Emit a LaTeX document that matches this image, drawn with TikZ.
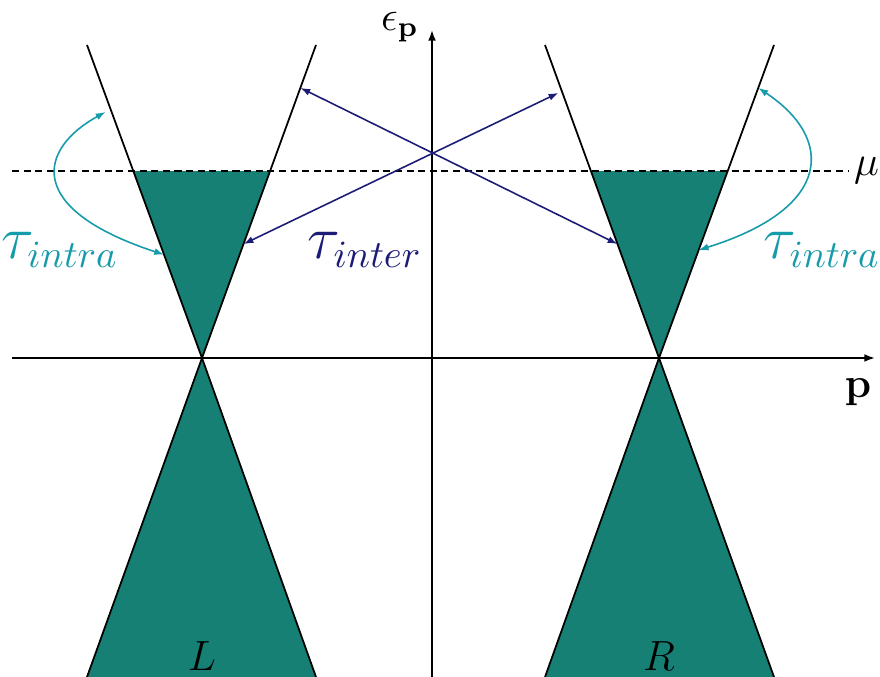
\documentclass[tikz,border=0pt]{standalone}
\usepackage{amsmath}
\usepackage{amssymb}
\usetikzlibrary{arrows.meta,calc}
\definecolor{fermiteal}{RGB}{21,128,115}
\definecolor{internavy}{RGB}{28,28,118}
\definecolor{intracyan}{RGB}{22,155,170}
\tikzset{
  eje/.style={
    -{Latex[length=3pt,width=2.2pt]},
    line width=.5pt
  },
  cono/.style={
    line width=.5pt
  },
  lleno/.style={
    fill=fermiteal
  },
  nivel/.style={
    line width=.8pt,
    dash pattern=on 2pt off 1.3pt
  },
  inter/.style={
    {Latex[length=2.8pt,width=2pt]}-{Latex[length=2.8pt,width=2pt]},
    line width=.45pt,
    internavy
  },
  intra/.style={
    {Latex[length=2.8pt,width=2pt]}-{Latex[length=2.8pt,width=2pt]},
    line width=.45pt,
    intracyan
  },
  etiq/.style={
    font=\fontsize{16}{19}\selectfont,
    inner sep=0pt
  }
}

\begin{document}
\begin{tikzpicture}[x=0.01cm,y=0.01cm]
\useasboundingbox (-432,-319) rectangle (448,358);
% cones
\coordinate (Lv) at (-230,0);
\coordinate (Ltl) at (-345,313);
\coordinate (Ltr) at (-116,313);
\coordinate (Lbl) at (-345,-319);
\coordinate (Lbr) at (-116,-319);
\coordinate (Rv) at (227,0);
\coordinate (Rtl) at (113,313);
\coordinate (Rtr) at (342,313);
\coordinate (Rbl) at (113,-319);
\coordinate (Rbr) at (342,-319);
% filled states
\fill[lleno] (Lv) -- ($(Lv)!0.597!(Ltl)$) -- ($(Lv)!0.597!(Ltr)$) -- cycle;
\fill[lleno] (Rv) -- ($(Rv)!0.597!(Rtl)$) -- ($(Rv)!0.597!(Rtr)$) -- cycle;
\fill[lleno] (Lv) -- (Lbl) -- (Lbr) -- cycle;
\fill[lleno] (Rv) -- (Rbl) -- (Rbr) -- cycle;
\draw[cono] (Ltl) -- (Lv) -- (Ltr);
\draw[cono] (Lbl) -- (Lv) -- (Lbr);
\draw[cono] (Rtl) -- (Rv) -- (Rtr);
\draw[cono] (Rbl) -- (Rv) -- (Rbr);
% axes
\coordinate (xi) at (-420,0);
\coordinate (xf) at (443,0);
\coordinate (yi) at (0,-319);
\coordinate (yf) at (0,328);
\draw[eje] (xi) -- (xf);
\draw[eje] (yi) -- (yf);
\node[font=\large] (ep) at (-32,331) {$\epsilon_{\mathbf{p}}$};
\node[font=\large] (p) at (426,-34) {$\mathbf{p}$};
% chemical potential
\coordinate (mi) at (-420,187);
\coordinate (mf) at (416,187);
\draw[nivel] (mi) -- (mf);
\node[font=\large, anchor=west, inner sep=1pt] (mu) at (418,187) {$\mu$};
% scattering
\coordinate (a1) at ($(Lv)!0.364!(Ltr)$);
\coordinate (a2) at ($(Rv)!0.847!(Rtl)+(-4,0)$);
\coordinate (b1) at ($(Lv)!0.863!(Ltr)$);
\coordinate (b2) at ($(Rv)!0.364!(Rtl)$);
\draw[inter] (a1) -- (a2);
\draw[inter] (b1) -- (b2);
\coordinate (c1) at ($(Lv)!0.33!(Ltl)$);
\coordinate (c2) at ($(Lv)!0.786!(Ltl)+(-6,0)$);
\coordinate (d1) at ($(Rv)!0.345!(Rtr)$);
\coordinate (d2) at ($(Rv)!0.863!(Rtr)$);
\draw[intra] (c1) .. controls (-410,150) and (-392,210) .. (c2);
\draw[intra] (d1) .. controls (402,150) and (402,220) .. (d2);
\node[etiq, intracyan] (ti1) at (-372,108) {$\tau_{intra}$};
\node[etiq, internavy] (te) at (-67,108) {$\tau_{inter}$};
\node[etiq, intracyan] (ti2) at (390,108) {$\tau_{intra}$};
\node[font=\fontsize{13}{15}\selectfont] (L) at (-230,-298) {$L$};
\node[font=\fontsize{13}{15}\selectfont] (R) at (227,-298) {$R$};
\end{tikzpicture}
\end{document}
